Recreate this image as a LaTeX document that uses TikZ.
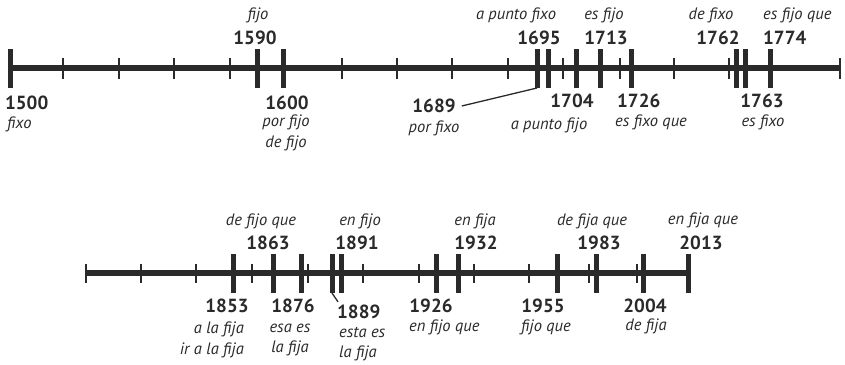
\documentclass[tikz,border=0pt]{standalone}
\usepackage{fontspec}
\setmainfont{PT Sans}
\usetikzlibrary{positioning}
\definecolor{ink}{HTML}{2A2A2A}

\begin{document}
\begin{tikzpicture}[x=1pt,y=-1pt,
      axis/.style={line width=5.5pt,ink},
      major/.style={line width=5pt,ink},
      minor/.style={line width=1.8pt,ink},
      leader/.style={line width=1.3pt,ink},
      year/.style={font=\bfseries\fontsize{19}{20}\selectfont,text=ink,inner sep=0pt},
      word/.style={font=\itshape\fontsize{16.5}{20.5}\selectfont,text=ink,inner sep=0pt}]
  \useasboundingbox (0,0) rectangle (845,364);

  % 1500 -- 1800
  \draw[axis] (10,68) -- (840,68);
  \foreach \x in {63,119,174,230,342,397,452,508,563,620,674,729,840}
    \draw[minor] (\x,58) -- (\x,79);
  \foreach \x in {10,257,283,537,548,576,600,631,736,745,770}
    \draw[major] (\x,49) -- (\x,88);
  \coordinate (t1689) at (537,88);

  \node[year] (y1590) at (255,38) {1590};
  \node[word] (w1590) at (258,15) {fijo};
  \node[year] (y1695) at (539,38) {1695};
  \node[word] (w1695) at (516,15) {a punto fixo};
  \node[year] (y1713) at (606,38) {1713};
  \node[word] (w1713) at (604,15) {es fijo};
  \node[year] (y1762) at (718,38) {1762};
  \node[word] (w1762) at (711,15) {de fixo};
  \node[year,anchor=west] (y1774) at (763,38) {1774};
  \node[word,anchor=west] (w1774) at (763,15) {es fijo que};

  \node[year,anchor=west] (y1500) at (5,103) {1500};
  \node[word,anchor=west] (w1500) at (7,124) {fixo};
  \node[year] (y1600) at (287,103) {1600};
  \node[word,align=center] (w1600) at (286,133) {por fijo\\de fijo};
  \node[year] (y1689) at (434,106) {1689};
  \node[word] (w1689) at (434,128) {por fixo};
  \node[year] (y1704) at (572,101) {1704};
  \node[word] (w1704) at (549,125) {a punto fijo};
  \node[year,anchor=west] (y1726) at (617,101) {1726};
  \node[word,anchor=west] (w1726) at (615,122) {es fixo que};
  \node[year] (y1763) at (762,101) {1763};
  \node[word] (w1763) at (763,122) {es fixo};
  \draw[leader] (y1689.east) ++(6,0) -- (t1689);

  % 1800 -- 2013
  \draw[axis] (86,273) -- (688,273);
  \foreach \x in {86,141,196,252,308,363,419,474,529,589,637}
    \draw[minor] (\x,264) -- (\x,283);
  \foreach \x in {233,273,301,332,341,436,458,557,596,643,688}
    \draw[major] (\x,254) -- (\x,293);
  \coordinate (t1889) at (332,293);

  \node[year] (y1863) at (268,243) {1863};
  \node[word] (w1863) at (261,221) {de fijo que};
  \node[year] (y1891) at (357,243) {1891};
  \node[word] (w1891) at (360,221) {en fijo};
  \node[year] (y1932) at (476,243) {1932};
  \node[word] (w1932) at (475,221) {en fija};
  \node[year] (y1983) at (599,243) {1983};
  \node[word] (w1983) at (592,221) {de fija que};
  \node[year] (y2013) at (701,243) {2013};
  \node[word] (w2013) at (703,220) {en fija que};

  \node[year] (y1853) at (227,306) {1853};
  \node[word,align=right,anchor=east] (w1853) at (244,340) {a la fija\\ir a la fija};
  \node[year] (y1876) at (293,306) {1876};
  \node[word,align=center] (w1876) at (290,340) {esa es\\la fija};
  \node[year,anchor=west] (y1889) at (337,312) {1889};
  \node[word,align=left,anchor=west] (w1889) at (339,344) {esta es\\la fija};
  \node[year] (y1926) at (431,306) {1926};
  \node[word,anchor=west] (w1926) at (409,327) {en fijo que};
  \node[year] (y1955) at (543,306) {1955};
  \node[word] (w1955) at (546,327) {fijo que};
  \node[year] (y2004) at (645,306) {2004};
  \node[word] (w2004) at (646,326) {de fija};
  \draw[leader] (t1889) -- ([shift={(1,-3)}]y1889.north west);
\end{tikzpicture}
\end{document}
